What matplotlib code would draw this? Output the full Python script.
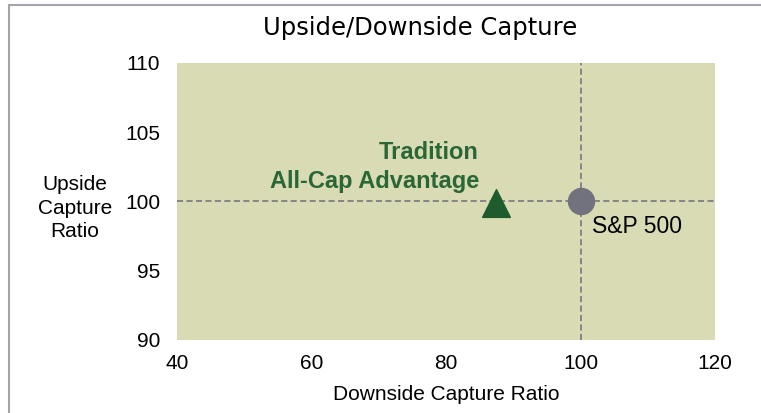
import matplotlib.pyplot as plt
from matplotlib.patches import Rectangle

# data
names = ['Tradition\nAll-Cap Advantage', 'S&P 500']
downside = [87.4, 100.0]
upside = [99.9, 100.0]
markers = ['^', 'o']
colors = ['#1F5B2C', '#72727E']
ref_x, ref_y = 100, 100
xticks = [40, 60, 80, 100, 120]
yticks = [90, 95, 100, 105, 110]

plt.rcParams['font.family'] = ['Liberation Sans', 'DejaVu Sans']

fig = plt.figure(figsize=(7.61, 4.13), dpi=100, facecolor='white')
# chart frame (only top / left visible)
fig.patches.append(Rectangle((9 / 761, -0.1), 1.2, 1 - 5 / 413 + 0.1,
                             transform=fig.transFigure, fill=False,
                             edgecolor='#A3A3AB', lw=1.5))

ax = fig.add_axes([177 / 761, 1 - 340 / 413, 538 / 761, 277 / 413])
ax.set_facecolor('#D9DBB4')
for sp in ax.spines.values():
    sp.set_visible(False)

ax.set_xlim(40, 120)
ax.set_ylim(90, 110)
ax.set_xticks(xticks)
ax.set_yticks(yticks)
ax.tick_params(length=0, labelsize=15, colors='black')
ax.tick_params(axis='x', pad=10)
ax.tick_params(axis='y', pad=12)

ax.axhline(ref_y, color='#6E6E78', lw=1.1, ls=(0, (4, 2.2)), zorder=1)
ax.axvline(ref_x, color='#6E6E78', lw=1.1, ls=(0, (4, 2.2)), zorder=1)

ax.scatter(downside[0], upside[0], marker=markers[0], s=400, color=colors[0], zorder=3)
ax.scatter(downside[1], upside[1], marker=markers[1], s=350, color=colors[1], zorder=3)

ax.annotate(names[0], (downside[0], upside[0]), xytext=(-12, 11),
            textcoords='offset points', ha='right', va='baseline',
            fontsize=17, fontweight='bold', color='#2A6636', linespacing=1.32,
            multialignment='right')
ax.annotate(names[1], (downside[1], upside[1]), xytext=(8.6, -23),
            textcoords='offset points', ha='left', va='baseline',
            fontsize=16.5, color='black')

ax.set_xlabel('Downside Capture Ratio', fontsize=15, labelpad=9)
fig.text(75 / 761, 1 - 208 / 413, 'Upside\nCapture\nRatio', ha='center', va='center',
         fontsize=15, linespacing=1.3)

fig.text(420 / 761, 1 - 28 / 413, 'Upside/Downside Capture', ha='center', va='center',
         fontsize=17.5, family='DejaVu Sans')

fig.savefig('out.png', dpi=100, facecolor='white')
